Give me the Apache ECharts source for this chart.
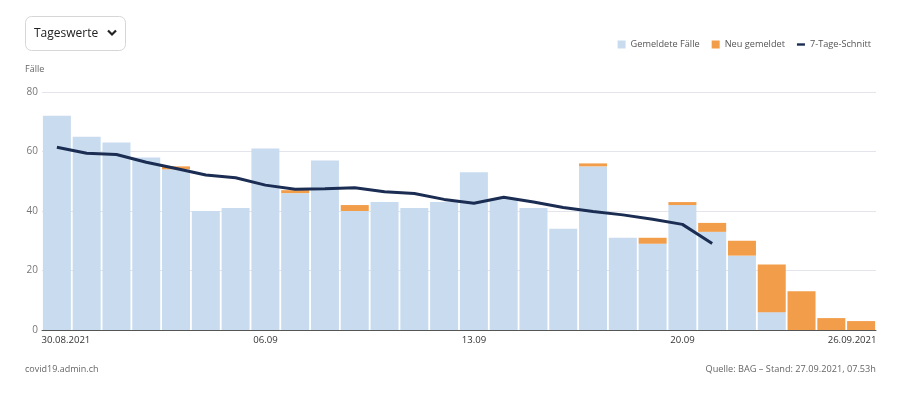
<!DOCTYPE html>
<html>
<head>
<meta charset="utf-8">
<script src="https://cdn.jsdelivr.net/npm/echarts@6/dist/echarts.min.js"></script>
<style>
html,body{margin:0;padding:0;background:#fff;}
#c{width:900px;height:401px;}
</style>
</head>
<body>
<div id="c"></div>
<script>
const categories = ['30.08.2021','31.08.2021','01.09.2021','02.09.2021','03.09.2021','04.09.2021','05.09.2021',
  '06.09.2021','07.09.2021','08.09.2021','09.09.2021','10.09.2021','11.09.2021','12.09.2021',
  '13.09.2021','14.09.2021','15.09.2021','16.09.2021','17.09.2021','18.09.2021','19.09.2021',
  '20.09.2021','21.09.2021','22.09.2021','23.09.2021','24.09.2021','25.09.2021','26.09.2021'];
const gemeldet = [72,65,63,58,54,40,41,61,46,57,40,43,41,43,53,44,41,34,55,31,29,42,33,25,6,0,0,0];
const neu      = [0,0,0,0,1,0,0,0,1,0,2,0,0,0,0,0,0,0,1,0,2,1,3,5,16,13,4,3];
const schnitt  = [61.4,59.4,59.0,56.4,54.3,52.1,51.2,48.7,47.3,47.5,47.8,46.5,45.9,43.9,42.6,44.6,43.0,41.2,39.8,38.7,37.2,35.5,29.1,null,null,null,null,null];
const tickLabels = {'30.08.2021':'30.08.2021','06.09.2021':'06.09','13.09.2021':'13.09','20.09.2021':'20.09','26.09.2021':'26.09.2021'};
const yTicks = [0,20,40,60,80];

const FONT = '"Open Sans", "Noto Sans", sans-serif';
const chart = echarts.init(document.getElementById('c'), null, {renderer:'canvas'});
const first = categories[0], last = categories[categories.length-1];
chart.setOption({
  animation:false,
  textStyle:{fontFamily:FONT},
  grid:{left:42,right:24,top:92,bottom:71,containLabel:false},
  legend:{
    right:24, top:35, itemWidth:8, itemHeight:8, itemGap:12,
    textStyle:{fontSize:9.2,color:'#555',fontFamily:FONT},
    data:[{name:'Gemeldete Fälle',icon:'rect'},{name:'Neu gemeldet',icon:'rect'},
          {name:'7-Tage-Schnitt',icon:'path://M0,0 L10,0 L10,3 L0,3 Z'}]
  },
  xAxis:{
    type:'category', data:categories, boundaryGap:true,
    axisLine:{lineStyle:{color:'#555',width:1}},
    axisTick:{alignWithLabel:true,length:4,lineStyle:{color:'#555'},
      interval:(i,v)=>tickLabels[v]!==undefined},
    axisLabel:{
      interval:(i,v)=>tickLabels[v]!==undefined,
      margin:5, fontSize:9.6, color:'#333', fontFamily:FONT,
      formatter:v=>{
        if(v===first) return '{f|'+tickLabels[v]+'}';
        if(v===last) return '{l|'+tickLabels[v]+'}';
        return tickLabels[v]||'';
      },
      rich:{f:{padding:[0,0,0,18],fontSize:9.6,color:'#333',fontFamily:FONT},
            l:{padding:[0,18,0,0],fontSize:9.6,color:'#333',fontFamily:FONT}}
    }
  },
  yAxis:{
    type:'value', min:yTicks[0], max:yTicks[yTicks.length-1], interval:20,
    axisLine:{show:false}, axisTick:{show:false},
    axisLabel:{margin:4,fontSize:10,color:'#777',fontFamily:FONT},
    splitLine:{lineStyle:{color:'#e4e4ec',width:1}}
  },
  series:[
    {name:'Gemeldete Fälle',type:'bar',stack:'a',data:gemeldet,barCategoryGap:'6%',
      itemStyle:{color:'#c9dcef'}},
    {name:'Neu gemeldet',type:'bar',stack:'a',data:neu,barCategoryGap:'6%',
      itemStyle:{color:'#f29d4a'}},
    {name:'7-Tage-Schnitt',type:'line',data:schnitt,showSymbol:false,symbol:'none',
      lineStyle:{color:'#1b2d52',width:3},itemStyle:{color:'#1b2d52'},z:5}
  ],
  graphic:[
    {type:'rect',left:25,top:16,shape:{width:100,height:34,r:6},
      style:{fill:'#fff',stroke:'#d6d6d6',lineWidth:1}},
    {type:'text',left:34,top:28,style:{text:'Tageswerte',fontSize:12,fill:'#222',fontFamily:FONT}},
    {type:'polyline',shape:{points:[[108,30.5],[112,34.5],[116,30.5]]},
      style:{stroke:'#222',lineWidth:2.2,fill:null}},
    {type:'text',left:25,top:65,style:{text:'Fälle',fontSize:9,fill:'#666',fontFamily:FONT}},
    {type:'text',left:25,top:365,style:{text:'covid19.admin.ch',fontSize:9,fill:'#666',fontFamily:FONT}},
    {type:'text',right:24,top:365,style:{text:'Quelle: BAG – Stand: 27.09.2021, 07.53h',fontSize:9.2,fill:'#666',fontFamily:FONT}}
  ]
});
</script>
</body>
</html>
